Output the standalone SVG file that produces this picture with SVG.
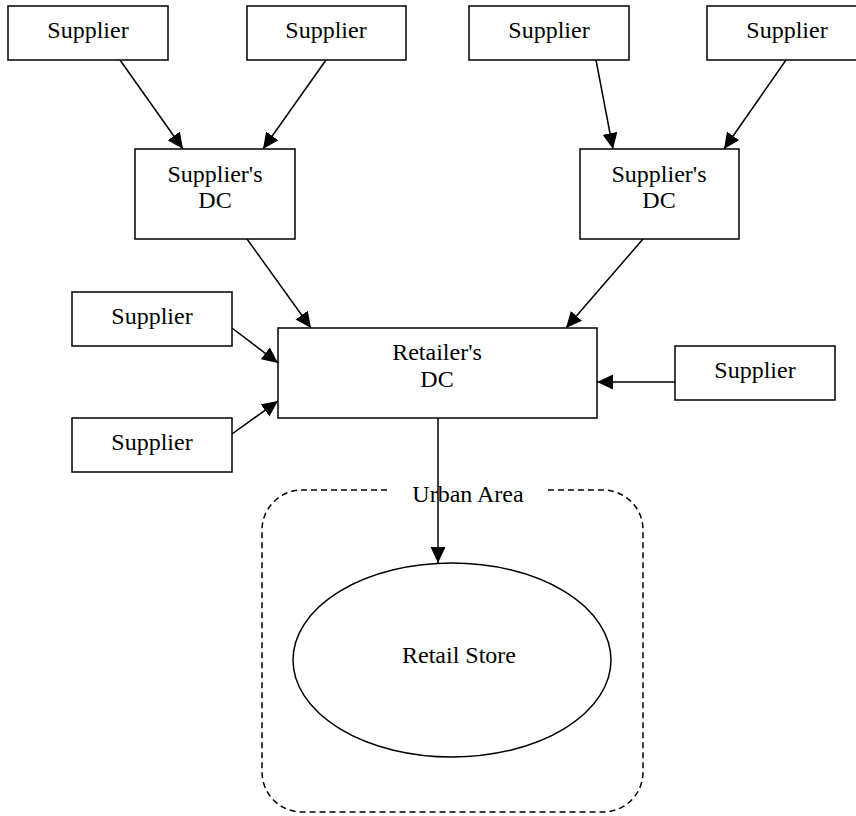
<svg xmlns="http://www.w3.org/2000/svg" width="856" height="816" viewBox="0 0 856 816">
<style>
.box{fill:#fff;stroke:#000;stroke-width:1.5}
.t{font-family:"Liberation Serif","Times New Roman",serif;font-size:24px;fill:#000;text-anchor:middle}
.edge{stroke:#000;stroke-width:1.5;fill:none}
</style>
<defs>
<marker id="ah" markerUnits="userSpaceOnUse" markerWidth="17" markerHeight="16" refX="16" refY="7.5" orient="auto">
<path d="M0,0 L16,7.5 L0,15 Z" fill="#000"/>
</marker>
</defs>
<rect width="856" height="816" fill="#fff"/>
<g id="urban-area">
<path d="M387,490 H302 A40,40 0 0 0 262,530 V772 A40,40 0 0 0 302,812 H603 A40,40 0 0 0 643,772 V530 A40,40 0 0 0 603,490 H548" fill="none" stroke="#000" stroke-width="1.5" stroke-dasharray="6,4"/>
<text class="t" x="468" y="502">Urban Area</text>
</g>
<g id="connectors">
<line class="edge" x1="120" y1="60" x2="183" y2="149" marker-end="url(#ah)"/>
<line class="edge" x1="326" y1="60" x2="263" y2="149" marker-end="url(#ah)"/>
<line class="edge" x1="596" y1="60" x2="613" y2="149" marker-end="url(#ah)"/>
<line class="edge" x1="786" y1="60" x2="724" y2="149" marker-end="url(#ah)"/>
<line class="edge" x1="247" y1="239" x2="311" y2="328" marker-end="url(#ah)"/>
<line class="edge" x1="643" y1="239" x2="566" y2="328" marker-end="url(#ah)"/>
<line class="edge" x1="232" y1="328" x2="278" y2="363" marker-end="url(#ah)"/>
<line class="edge" x1="232" y1="434" x2="278" y2="401" marker-end="url(#ah)"/>
<line class="edge" x1="675" y1="382" x2="597" y2="382" marker-end="url(#ah)"/>
<line class="edge" x1="438" y1="418" x2="438" y2="563" marker-end="url(#ah)"/>
</g>
<g id="supplier-1"><rect class="box" x="8" y="6" width="160" height="54"/><text class="t" x="88" y="38">Supplier</text></g>
<g id="supplier-2"><rect class="box" x="247" y="6" width="159" height="54"/><text class="t" x="326" y="38">Supplier</text></g>
<g id="supplier-3"><rect class="box" x="469" y="6" width="160" height="54"/><text class="t" x="549" y="38">Supplier</text></g>
<g id="supplier-4"><rect class="box" x="707" y="6" width="160" height="54"/><text class="t" x="787" y="38">Supplier</text></g>
<g id="suppliers-dc-1"><rect class="box" x="135" y="149" width="160" height="90"/><text class="t" x="215" y="182">Supplier's</text><text class="t" x="215" y="208">DC</text></g>
<g id="suppliers-dc-2"><rect class="box" x="580" y="149" width="159" height="90"/><text class="t" x="659" y="182">Supplier's</text><text class="t" x="659" y="208">DC</text></g>
<g id="supplier-5"><rect class="box" x="72" y="292" width="160" height="54"/><text class="t" x="152" y="324">Supplier</text></g>
<g id="supplier-6"><rect class="box" x="72" y="418" width="160" height="54"/><text class="t" x="152" y="450">Supplier</text></g>
<g id="supplier-7"><rect class="box" x="675" y="346" width="160" height="54"/><text class="t" x="755" y="378">Supplier</text></g>
<g id="retailers-dc"><rect class="box" x="278" y="328" width="319" height="90"/><text class="t" x="437" y="360">Retailer's</text><text class="t" x="437" y="387">DC</text></g>
<g id="retail-store"><ellipse class="box" cx="452" cy="660" rx="159" ry="97"/><text class="t" x="459" y="663">Retail Store</text></g>
</svg>
